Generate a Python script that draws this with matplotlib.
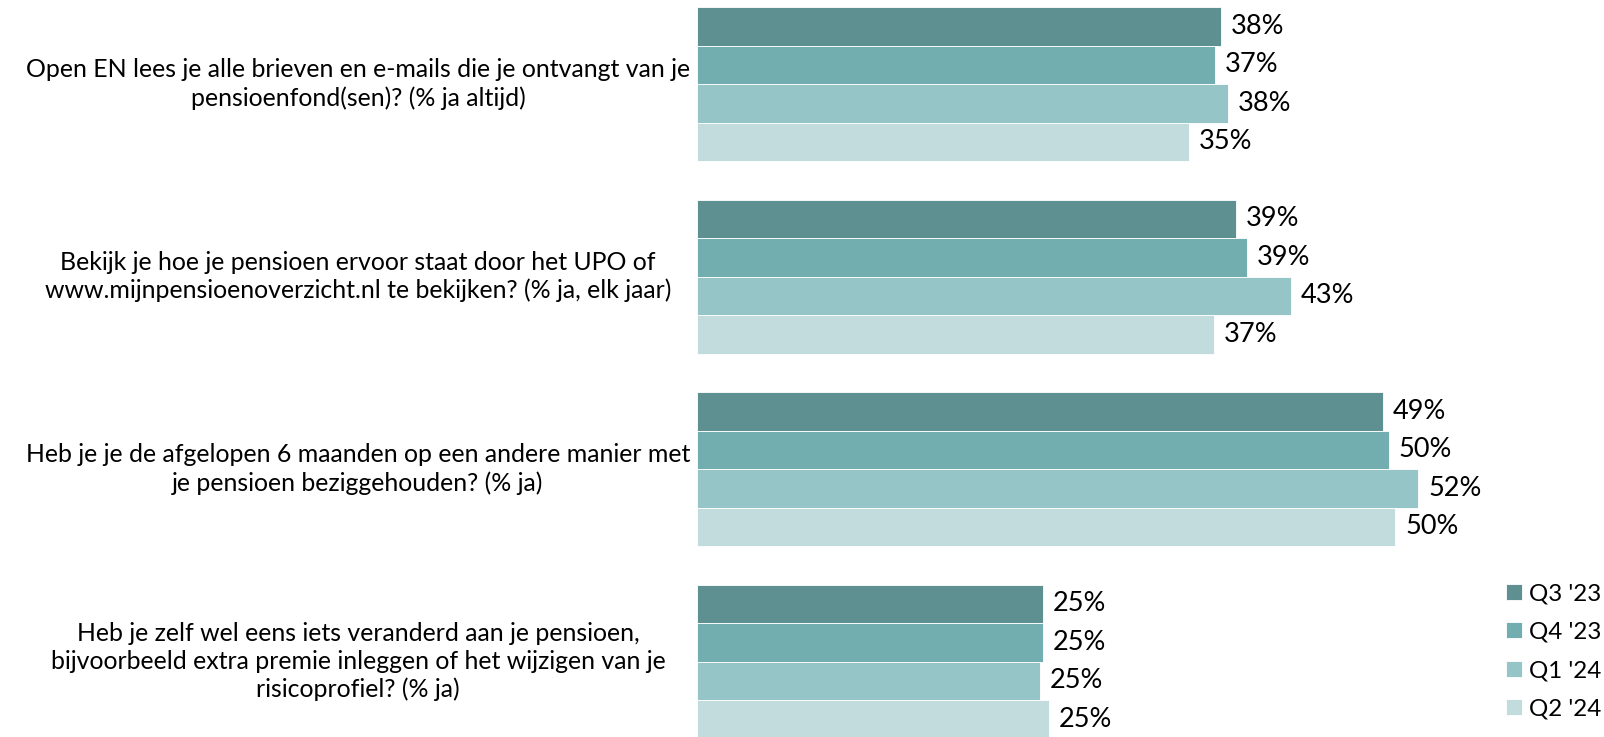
import matplotlib
matplotlib.use("Agg")
import matplotlib.pyplot as plt
from matplotlib.transforms import blended_transform_factory

plt.rcParams['font.family'] = ['Lato', 'DejaVu Sans']

categories = [
    "Open EN lees je alle brieven en e-mails die je ontvangt van je\npensioenfond(sen)? (% ja altijd)",
    "Bekijk je hoe je pensioen ervoor staat door het UPO of\nwww.mijnpensioenoverzicht.nl te bekijken? (% ja, elk jaar)",
    "Heb je je de afgelopen 6 maanden op een andere manier met\nje pensioen beziggehouden? (% ja)",
    "Heb je zelf wel eens iets veranderd aan je pensioen,\nbijvoorbeeld extra premie inleggen of het wijzigen van je\nrisicoprofiel? (% ja)",
]
series_names = ["Q3 '23", "Q4 '23", "Q1 '24", "Q2 '24"]
q3_23 = [37.7, 38.8, 49.35, 24.9]
q4_23 = [37.3, 39.6, 49.8, 24.9]
q1_24 = [38.2, 42.7, 51.9, 24.7]
q2_24 = [35.4, 37.2, 50.25, 25.3]
q3_23_labels = ["38%", "39%", "49%", "25%"]
q4_23_labels = ["37%", "39%", "50%", "25%"]
q1_24_labels = ["38%", "43%", "52%", "25%"]
q2_24_labels = ["35%", "37%", "50%", "25%"]

series = [q3_23, q4_23, q1_24, q2_24]
series_labels = [q3_23_labels, q4_23_labels, q1_24_labels, q2_24_labels]
colors = ["#5E9092", "#72ADB0", "#96C5C7", "#C2DCDD"]

W, H = 1604, 737
fig = plt.figure(figsize=(W / 100, H / 100), dpi=100)
left_px = 697
ax = fig.add_axes([left_px / W, 0, 1 - left_px / W, 1])
px_per_unit = 13.9
ax.set_xlim(0, (W - left_px) / px_per_unit)
pitch = 192.5
top0 = 7.2
ax.set_ylim(-0.4 + (H - top0) / pitch, -0.4 - top0 / pitch)
ax.axis('off')

bar_h = 0.2
offsets = [-0.3, -0.1, 0.1, 0.3]
fs_cat = 17.9
fs_val = 19.5
fs_leg = 17.4
handles = []
for s, (vals, labs, c, off) in enumerate(zip(series, series_labels, colors, offsets)):
    ys = [i + off for i in range(len(categories))]
    bars = ax.barh(ys, vals, height=bar_h, color=c, edgecolor='white', linewidth=0.6)
    handles.append(bars)
    for y, v, lab in zip(ys, vals, labs):
        ax.annotate(lab, (v, y), xytext=(7, 0), textcoords='offset points',
                    va='center', ha='left', fontsize=fs_val, color='#000000')

tr = blended_transform_factory(fig.transFigure, ax.transData)
for i, cat in enumerate(categories):
    ax.text(358 / W, i, cat, transform=tr, ha='center', va='center',
            multialignment='center', fontsize=fs_cat, color='#000000', linespacing=1.25)

fig.legend(handles, series_names, loc='center left',
           bbox_to_anchor=(1506 / W, 1 - 651.5 / H), frameon=False,
           fontsize=fs_leg, handlelength=0.66, handleheight=0.66, handletextpad=0.28,
           labelspacing=0.72, borderpad=0, borderaxespad=0)

fig.savefig("out.png", dpi=100)
